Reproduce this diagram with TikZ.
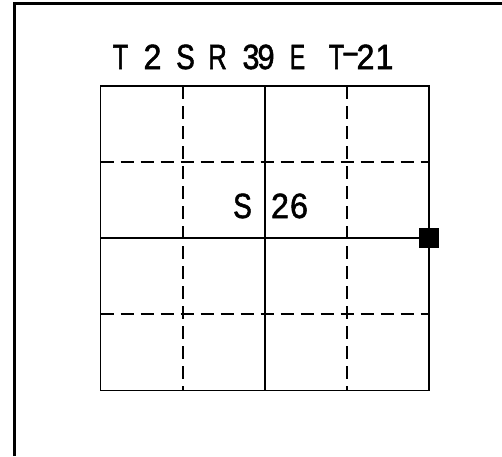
\documentclass[tikz,border=0pt]{standalone}
\usepackage{fontspec}
\setmainfont[FakeBold=1.6]{Liberation Sans}
\begin{document}
\begin{tikzpicture}[x=1pt,y=-1pt,
  frame/.style={line width=3pt},
  gridline/.style={line width=1.8pt},
  dashline/.style={line width=1.3pt, dash pattern=on 13pt off 7pt},
  chr/.style={anchor=base, inner sep=0pt, font=\fontsize{35}{35}\selectfont},
  marker/.style={fill=black, draw=none, minimum size=20pt, inner sep=0pt}]
\useasboundingbox (0,0) rectangle (502,456);
% outer frame (left and top)
\draw[frame] (14,456) -- (14,3) -- (502,3);
% dashed quarter lines
\draw[dashline] (183,86) -- (183,390.5);
\draw[dashline] (347,86) -- (347,390.5);
\draw[dashline] (100.5,162) -- (429,162);
\draw[dashline] (100.5,314) -- (429,314);
% solid section lines
\draw[gridline] (100.5,86) rectangle (429,390.5);
\draw[gridline] (265,86) -- (265,390.5);
\draw[gridline] (100.5,238) -- (429,238);
% marker
\node[marker] (mk) at (429,237.5) {};
% title
\node[chr] (c1) at (120.5,69) {\scalebox{0.72}[1]{T}};
\node[chr] (c2) at (152.5,69) {\scalebox{0.92}[1]{2}};
\node[chr] (c3) at (185.5,69) {\scalebox{0.8}[1]{S}};
\node[chr] (c4) at (217.5,69) {\scalebox{0.74}[1]{R}};
\node[chr] (c5) at (251,69) {\scalebox{0.88}[1]{3}};
\node[chr] (c6) at (266,69) {\scalebox{0.88}[1]{9}};
\node[chr] (c7) at (297.5,69) {\scalebox{0.66}[1]{E}};
\node[chr] (c8) at (336.5,69) {\scalebox{0.72}[1]{T}};
\node[chr] (c9) at (350.5,69) {\raisebox{6pt}{\scalebox{0.7}[1]{--}}};
\node[chr] (c10) at (365.5,69) {\scalebox{0.92}[1]{2}};
\node[chr] (c11) at (384.5,69) {\scalebox{0.92}[1]{1}};
% section label
\node[chr] (s1) at (242.5,218) {\scalebox{0.8}[1]{S}};
\node[chr] (s2) at (280,218) {\scalebox{0.92}[1]{2}};
\node[chr] (s3) at (299,218) {\scalebox{0.92}[1]{6}};
\end{tikzpicture}
\end{document}
